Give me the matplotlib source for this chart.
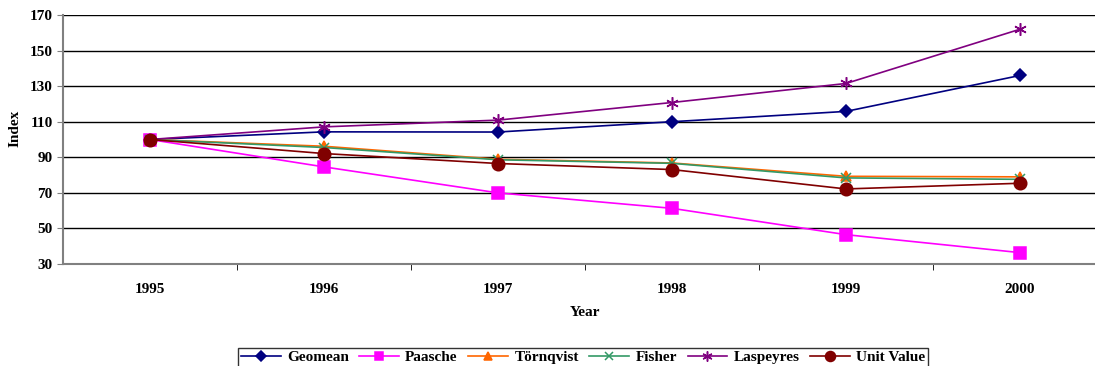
import numpy as np
import matplotlib
matplotlib.use("Agg")
import matplotlib.pyplot as plt

# Datos
anios = ['1995', '1996', '1997', '1998', '1999', '2000']
geomean = [100, 104.3, 104.2, 110.0, 115.8, 136.0]
paasche = [100, 84.6, 70.0, 61.3, 46.5, 36.4]
tornqvist = [100, 96.2, 88.9, 86.8, 79.3, 79.0]
fisher = [100, 95.5, 88.6, 86.6, 78.4, 77.6]
laspeyres = [100, 107.1, 110.9, 120.8, 131.5, 162.0]
unit_value = [100, 92.1, 86.5, 83.1, 72.2, 75.4]

plt.rcParams['font.family'] = ['Liberation Serif', 'DejaVu Serif']

fig = plt.figure(figsize=(10.95, 3.66), dpi=100)
W, H = 1095, 366
ax = fig.add_axes([63 / W, 102 / H, 1044 / W, 249 / H])

x = np.arange(len(anios))
series = [
    ('Geomean', geomean, '#000080', 'D', 6),
    ('Paasche', paasche, '#FF00FF', 's', 8),
    ('Törnqvist', tornqvist, '#FF6600', '^', 7),
    ('Fisher', fisher, '#339966', 'x', 7),
    ('Laspeyres', laspeyres, '#800080', (6, 2, 0), 9),
    ('Unit Value', unit_value, '#800000', 'o', 9),
]
for nombre, valores, color, marcador, tam in series:
    ax.plot(x, valores, color=color, marker=marcador, markersize=tam, linewidth=1.2,
            markeredgewidth=1.1, label=nombre, zorder=3)

ax.set_xlim(-0.5, len(anios) - 0.5)
ax.set_ylim(30, 170)
ax.set_yticks(np.arange(30, 171, 20))
ax.set_xticks(x)
ax.set_xticklabels(anios, fontweight='bold', fontsize=11)
ax.set_xticks(x[:-1] + 0.5, minor=True)
ax.tick_params(axis='x', which='major', length=0, pad=14)
ax.tick_params(axis='x', which='minor', length=4, color='black', direction='out')
ax.tick_params(axis='y', length=4, color='#808080', labelsize=11)
for lbl in ax.get_yticklabels():
    lbl.set_fontweight('bold')

ax.yaxis.grid(True, color='black', linewidth=1)
ax.set_axisbelow(True)
for lado in ['top', 'right']:
    ax.spines[lado].set_visible(False)
ax.spines['left'].set_color('#808080')
ax.spines['bottom'].set_color('#808080')
ax.spines['left'].set_linewidth(1.5)
ax.spines['bottom'].set_linewidth(1.5)

ax.set_xlabel('Year', fontweight='bold', fontsize=11, labelpad=7)
fig.text(15 / W, 1 - 128 / H, 'Index', rotation=90, fontweight='bold', fontsize=11,
         ha='center', va='center')

leg = fig.legend(loc='upper center', bbox_to_anchor=(583 / W, 1 - 340 / H), ncol=6,
                 frameon=True, fancybox=False, edgecolor='black',
                 prop={'weight': 'bold', 'size': 11}, handlelength=2.6,
                 markerscale=0.8, columnspacing=0.7, handletextpad=0.4, borderpad=0.2)
leg.get_frame().set_linewidth(1)

fig.savefig('out.png', dpi=100)
